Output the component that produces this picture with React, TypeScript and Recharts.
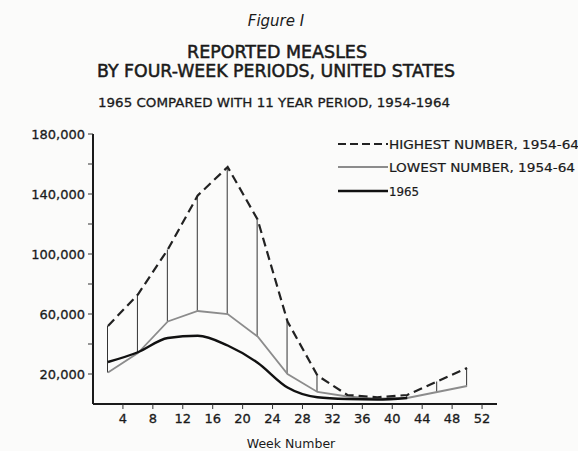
import React from 'react';
import { ComposedChart, XAxis, YAxis, Line, Bar } from 'recharts';

const weeks = [2, 6, 10, 14, 18, 22, 26, 30, 34, 38, 42, 46, 50];
const highest = [52000, 73000, 103000, 139000, 158000, 123000, 55000, 19000, 6000, 4500, 6000, 15000, 24000];
const lowest = [21000, 34000, 55000, 62000, 60000, 45000, 20000, 8000, 5000, 3500, 4000, 8000, 12000];
const measles1965 = [28000, 34500, 44000, 45500, 39000, 27500, 11000, 4500, 3300, 3000, 4000, null, null];
const xTicks = [4, 8, 12, 16, 20, 24, 28, 32, 36, 40, 44, 48, 52];
const yTicks = [20000, 40000, 60000, 80000, 100000, 120000, 140000, 160000, 180000];
const yLabeled = [20000, 60000, 100000, 140000, 180000];

const titleLines = ['REPORTED MEASLES', 'BY FOUR-WEEK PERIODS, UNITED STATES'];
const subtitle = '1965 COMPARED WITH 11 YEAR PERIOD, 1954-1964';
const legendLabels = ['HIGHEST NUMBER, 1954-64', 'LOWEST NUMBER, 1954-64', '1965'];

const data = weeks.map((w, i) => ({
  week: w,
  highest: highest[i],
  lowest: lowest[i],
  y1965: measles1965[i],
  range: [lowest[i], highest[i]],
}));

const FONT = 'DejaVu Sans, sans-serif';
const INK = '#1a1a1a';

export default function App() {
  return (
    <div style={{ position: 'absolute', left: 0, top: 0, width: 578, height: 451, background: '#fbfbfa', overflow: 'hidden' }}>
      <ComposedChart width={578} height={451} data={data} margin={{ top: 134, right: 81, bottom: 0, left: 0 }}>
        <XAxis
          dataKey="week"
          type="number"
          domain={[0, 54]}
          ticks={xTicks}
          interval={0}
          height={47}
          tickSize={5}
          tickMargin={5}
          axisLine={{ stroke: INK, strokeWidth: 2 }}
          tickLine={{ stroke: '#333' }}
          tick={{ fill: INK, stroke: INK, strokeWidth: 0.3, fontSize: 13, fontFamily: FONT }}
          label={{ value: 'Week Number', position: 'insideBottom', offset: 3, dx: -4, fill: INK, fontSize: 12.5, fontFamily: FONT }}
        />
        <YAxis
          type="number"
          domain={[0, 180000]}
          ticks={yTicks}
          interval={0}
          width={93}
          tickSize={5}
          tickMargin={3}
          axisLine={{ stroke: INK, strokeWidth: 2 }}
          tickLine={{ stroke: '#333' }}
          tick={{ fill: INK, stroke: INK, strokeWidth: 0.3, fontSize: 13, fontFamily: FONT }}
          tickFormatter={(v: number) => (yLabeled.includes(v) ? v.toLocaleString('en-US') : '')}
        />
        <Bar dataKey="range" barSize={1} fill="#333" isAnimationActive={false} />
        <Line type="linear" dataKey="lowest" stroke="#8c8c8c" strokeWidth={1.8} dot={false} isAnimationActive={false} />
        <Line type="monotone" dataKey="y1965" stroke="#111" strokeWidth={2.4} dot={false} isAnimationActive={false} />
        <Line type="linear" dataKey="highest" stroke="#222" strokeWidth={2.2} strokeDasharray="9 5" dot={false} isAnimationActive={false} />
      </ComposedChart>
      <svg width={578} height={451} style={{ position: 'absolute', left: 0, top: 0, pointerEvents: 'none' }}>
        <text x={276} y={26} textAnchor="middle" fontFamily={FONT} fontStyle="italic" fontSize={15} fill={INK}>Figure I</text>
        <text x={277} y={58} textAnchor="middle" fontFamily={FONT} fontSize={17} fill={INK} stroke={INK} strokeWidth={0.5} textLength={180} lengthAdjust="spacingAndGlyphs">{titleLines[0]}</text>
        <text x={276} y={77} textAnchor="middle" fontFamily={FONT} fontSize={17} fill={INK} stroke={INK} strokeWidth={0.5} textLength={358} lengthAdjust="spacingAndGlyphs">{titleLines[1]}</text>
        <text x={274} y={107} textAnchor="middle" fontFamily={FONT} fontSize={13} fill={INK} stroke={INK} strokeWidth={0.3} textLength={352} lengthAdjust="spacingAndGlyphs">{subtitle}</text>
        <line x1={338} y1={144} x2={388} y2={144} stroke="#222" strokeWidth={2} strokeDasharray="8 4" />
        <text x={389} y={148.5} fontFamily={FONT} fontSize={12} fill={INK} stroke={INK} strokeWidth={0.2} textLength={190} lengthAdjust="spacingAndGlyphs">{legendLabels[0]}</text>
        <line x1={338} y1={167} x2={388} y2={167} stroke="#8c8c8c" strokeWidth={1.8} />
        <text x={389} y={171.5} fontFamily={FONT} fontSize={12} fill={INK} stroke={INK} strokeWidth={0.2} textLength={186} lengthAdjust="spacingAndGlyphs">{legendLabels[1]}</text>
        <line x1={338} y1={191} x2={388} y2={191} stroke="#111" strokeWidth={2.4} />
        <text x={389} y={195.5} fontFamily={FONT} fontSize={12} fill={INK} stroke={INK} strokeWidth={0.2} textLength={30} lengthAdjust="spacingAndGlyphs">{legendLabels[2]}</text>
      </svg>
    </div>
  );
}
